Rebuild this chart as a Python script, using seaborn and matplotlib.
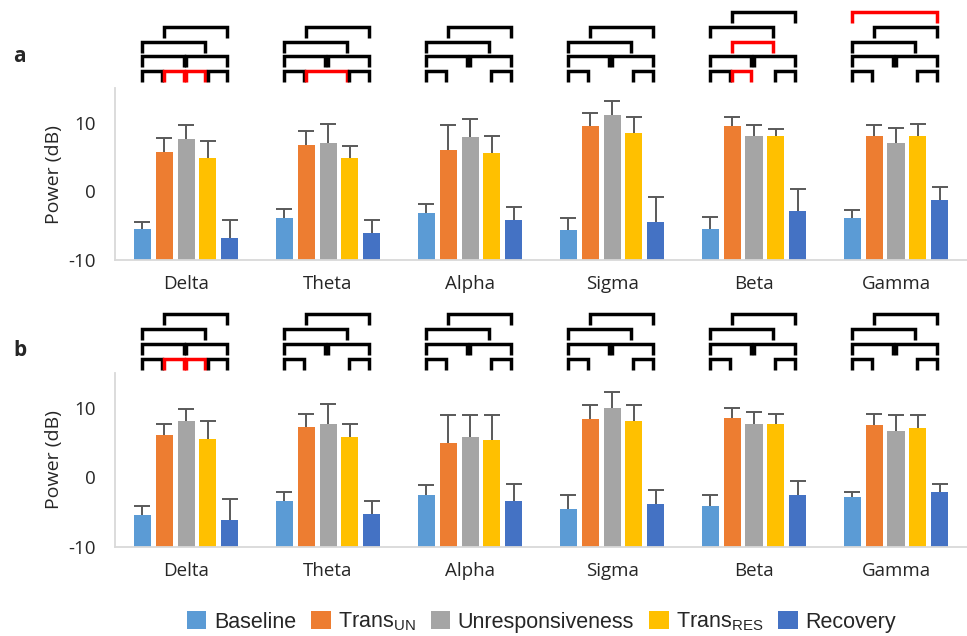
import numpy as np
import pandas as pd
import matplotlib.pyplot as plt
import seaborn as sns
from matplotlib.patches import Patch

# 밴드 / 조건
bands = ['Delta', 'Theta', 'Alpha', 'Sigma', 'Beta', 'Gamma']
conditions = ['Baseline', r'Trans$_\mathregular{UN}$', 'Unresponsiveness',
              r'Trans$_\mathregular{RES}$', 'Recovery']
colors = ['#5B9BD5', '#ED7D31', '#A5A5A5', '#FFC000', '#4472C4']

# panel a : mean power (dB), one list per condition over bands
baseline_a = [-5.4, -3.8, -3.2, -5.6, -5.5, -3.9]
transun_a = [5.7, 6.8, 6.0, 9.5, 9.5, 8.1]
unresp_a = [7.7, 7.0, 7.9, 11.1, 8.1, 7.0]
transres_a = [4.8, 4.8, 5.6, 8.5, 8.0, 8.0]
recovery_a = [-6.8, -6.1, -4.2, -4.4, -2.8, -1.3]
# panel a : upper error
baseline_a_err = [1.0, 1.2, 1.3, 1.8, 1.8, 1.2]
transun_a_err = [2.1, 2.0, 3.6, 1.9, 1.3, 1.6]
unresp_a_err = [1.9, 2.8, 2.6, 2.0, 1.6, 2.2]
transres_a_err = [2.5, 1.8, 2.5, 2.3, 1.1, 1.8]
recovery_a_err = [2.6, 1.9, 2.0, 3.6, 3.1, 2.0]

# panel b
baseline_b = [-5.4, -3.4, -2.6, -4.5, -4.1, -2.9]
transun_b = [6.1, 7.2, 4.9, 8.3, 8.5, 7.5]
unresp_b = [8.0, 7.7, 5.8, 9.9, 7.6, 6.7]
transres_b = [5.5, 5.8, 5.3, 8.1, 7.7, 7.1]
recovery_b = [-6.1, -5.2, -3.4, -3.8, -2.6, -2.1]
baseline_b_err = [1.3, 1.3, 1.5, 1.9, 1.5, 0.8]
transun_b_err = [1.6, 1.9, 4.0, 2.1, 1.4, 1.6]
unresp_b_err = [1.8, 2.8, 3.1, 2.3, 1.7, 2.3]
transres_b_err = [2.6, 1.9, 3.6, 2.3, 1.4, 1.9]
recovery_b_err = [3.0, 1.8, 2.5, 2.0, 2.1, 1.1]

# significance brackets: (from, to, row, significant)
std_brackets = [(0, 1, 0, False), (3, 4, 0, False), (0, 2, 1, False),
                (2, 4, 1, False), (0, 3, 2, False), (1, 4, 3, False)]
delta_brackets = [(0, 1, 0, False), (1, 2, 0, True), (2, 3, 0, True), (3, 4, 0, False),
                  (0, 2, 1, False), (2, 4, 1, False), (0, 3, 2, False), (1, 4, 3, False)]
theta_a_brackets = [(0, 1, 0, False), (1, 3, 0, True), (3, 4, 0, False),
                    (0, 2, 1, False), (2, 4, 1, False), (0, 3, 2, False), (1, 4, 3, False)]
beta_a_brackets = [(0, 1, 0, False), (1, 2, 0, True), (3, 4, 0, False),
                   (0, 2, 1, False), (2, 4, 1, False), (1, 3, 2, True),
                   (0, 3, 3, False), (1, 4, 4, False)]
gamma_a_brackets = std_brackets + [(0, 4, 4, True)]

brackets_a = {'Delta': delta_brackets, 'Theta': theta_a_brackets, 'Alpha': std_brackets,
              'Sigma': std_brackets, 'Beta': beta_a_brackets, 'Gamma': gamma_a_brackets}
brackets_b = {'Delta': delta_brackets, 'Theta': std_brackets, 'Alpha': std_brackets,
              'Sigma': std_brackets, 'Beta': std_brackets, 'Gamma': std_brackets}


def make_df(means, errs):
    rows = []
    for cond, m, e in zip(conditions, means, errs):
        for band, v, s in zip(bands, m, e):
            rows.append({'band': band, 'condition': cond, 'power': v, 'err': s})
    return pd.DataFrame(rows)


df_a = make_df([baseline_a, transun_a, unresp_a, transres_a, recovery_a],
               [baseline_a_err, transun_a_err, unresp_a_err, transres_a_err, recovery_a_err])
df_b = make_df([baseline_b, transun_b, unresp_b, transres_b, recovery_b],
               [baseline_b_err, transun_b_err, unresp_b_err, transres_b_err, recovery_b_err])

FLOOR = -10  # excel 축이 -10에서 교차

sns.set_theme(style='white')
plt.rcParams['font.family'] = ['Open Sans', 'DejaVu Sans']
plt.rcParams['mathtext.default'] = 'regular'
plt.rcParams['axes.unicode_minus'] = False

fig = plt.figure(figsize=(9.67, 6.36), dpi=100)
ax_a = fig.add_axes([0.119, 0.591, 0.881, 0.270])
ax_b = fig.add_axes([0.119, 0.140, 0.881, 0.274])


def draw_panel(ax, df, brackets, top0):
    df = df.assign(height=df['power'] - FLOOR)
    sns.barplot(data=df, x='band', y='height', hue='condition', order=bands,
                hue_order=conditions, palette=colors, bottom=FLOOR, width=0.77, gap=0.22,
                errorbar=None, saturation=1, linewidth=0, legend=False, ax=ax)
    xs = np.array([p.get_x() + p.get_width() / 2 for p in ax.patches])
    tops = np.array([p.get_y() + p.get_height() for p in ax.patches])
    eb = ax.errorbar(xs, tops, yerr=[np.zeros(len(xs)), df['err'].values], fmt='none',
                     ecolor='#595959', elinewidth=1.4, capsize=6, capthick=1.4, zorder=3)
    eb[1][0].set_visible(False)  # 아래쪽 cap 숨김

    nb = len(bands)
    for k, band in enumerate(bands):
        cx = [xs[c * nb + k] for c in range(len(conditions))]
        for i, j, lvl, sig in brackets[band]:
            x0 = cx[i] - 0.003
            x1 = cx[j] - 0.018
            yt = top0 + lvl * 2.15
            yb = yt - 1.6
            ax.plot([x0, x0, x1, x1], [yb, yt, yt, yb], color='#FF0000' if sig else 'black',
                    lw=2.5, clip_on=False, solid_joinstyle='miter', solid_capstyle='butt')

    ax.set_xlim(-0.5, 5.5)
    ax.set_ylim(-10, 15)
    ax.set_yticks([-10, 0, 10])
    ax.set_xlabel('')
    ax.set_ylabel('Power (dB)', fontsize=14, labelpad=4)
    ax.tick_params(axis='both', length=0, labelsize=13.5)
    ax.tick_params(axis='x', pad=11)
    ax.tick_params(axis='y', pad=14)
    sns.despine(ax=ax)
    for s in ['left', 'bottom']:
        ax.spines[s].set_color('#D9D9D9')
        ax.spines[s].set_linewidth(1.3)


draw_panel(ax_a, df_a, brackets_a, 17.5)
draw_panel(ax_b, df_b, brackets_b, 17.0)

fig.text(0.014, 1 - 56 / 636, 'a', fontsize=15, fontweight='bold', va='center')
fig.text(0.014, 1 - 350 / 636, 'b', fontsize=15, fontweight='bold', va='center')

handles = [Patch(facecolor=c, edgecolor='none') for c in colors]
fig.legend(handles, conditions, loc='center', bbox_to_anchor=(0.56, 1 - 622 / 636), ncol=5,
           frameon=False, handlelength=0.9, handleheight=0.9, handletextpad=0.35,
           columnspacing=0.7, prop={'family': 'Liberation Sans', 'size': 15.5})

fig.savefig('out.png', dpi=100)
